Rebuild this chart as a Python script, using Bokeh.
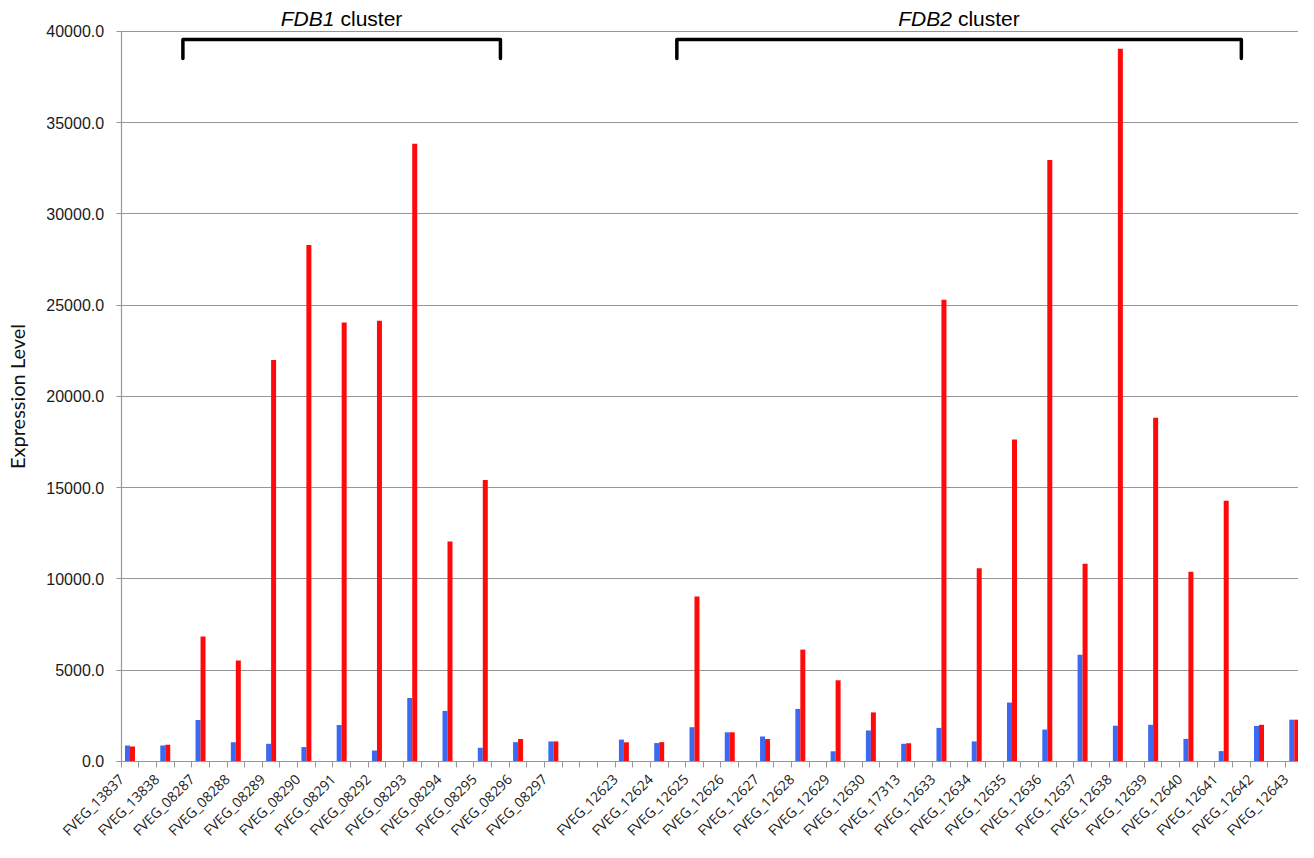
import math
from bokeh.plotting import figure
from bokeh.models import FixedTicker, NumeralTickFormatter, Range1d, ColumnDataSource
from bokeh.transform import dodge
from bokeh.core.properties import value
from bokeh.embed import file_html
from bokeh.resources import INLINE

# ---------------- data ----------------
genes = [
    "FVEG_13837", "FVEG_13838", "FVEG_08287", "FVEG_08288", "FVEG_08289",
    "FVEG_08290", "FVEG_08291", "FVEG_08292", "FVEG_08293", "FVEG_08294",
    "FVEG_08295", "FVEG_08296", "FVEG_08297", "",
    "FVEG_12623", "FVEG_12624", "FVEG_12625", "FVEG_12626", "FVEG_12627",
    "FVEG_12628", "FVEG_12629", "FVEG_12630", "FVEG_17313", "FVEG_12633",
    "FVEG_12634", "FVEG_12635", "FVEG_12636", "FVEG_12637", "FVEG_12638",
    "FVEG_12639", "FVEG_12640", "FVEG_12641", "FVEG_12642", "FVEG_12643",
]
expr_blue = [
    880, 880, 2280, 1060, 970, 790, 2000, 600, 3480, 2770, 750, 1060, 1100, None,
    1200, 1010, 1880, 1600, 1370, 2880, 560, 1700, 970, 1840, 1100, 3230, 1750,
    5850, 1960, 2010, 1240, 570, 1950, 2290,
]
expr_red = [
    820, 920, 6850, 5530, 22000, 28300, 24050, 24150, 33850, 12050, 15430, 1230,
    1100, None,
    1050, 1060, 9040, 1600, 1230, 6130, 4450, 2690, 1000, 25300, 10590, 17640,
    32950, 10830, 39050, 18830, 10400, 14290, 2010, 2290,
]
y_ticks = [0, 5000, 10000, 15000, 20000, 25000, 30000, 35000, 40000]
y_axis_title = "Expression Level"
cluster_names = ["FDB1", "FDB2"]
cluster_first = ["FVEG_08287", "FVEG_12625"]
cluster_last = ["FVEG_08295", "FVEG_12641"]

# ---------------- layout / style ----------------
SLOTS_PER_GENE = 2          # each gene = one bar slot + one empty slot
BAR_W = 0.283
LABEL_SHIFT = 0.5           # rotated labels end slightly left of the bars
X_START, X_END = -6.84, 66.74
Y_MIN, Y_TOP = -4438, 41695
YTITLE_X = -5.88
BLUE = "#3b69f2"
RED = "#ff0a0a"
GRAY = "#969696"

centers = [SLOTS_PER_GENE * i + 0.5 for i in range(len(genes))]
keep = [i for i, g in enumerate(genes) if g]
n_slots = SLOTS_PER_GENE * len(genes)

src = ColumnDataSource(dict(
    x=[centers[i] for i in keep],
    blue=[expr_blue[i] for i in keep],
    red=[expr_red[i] for i in keep],
))

p = figure(width=1298, height=842, output_backend="svg", toolbar_location=None,
           x_range=Range1d(X_START, X_END), y_range=Range1d(Y_MIN, Y_TOP),
           min_border_left=0, min_border_right=0, min_border_top=0,
           min_border_bottom=0)
p.outline_line_color = None
p.background_fill_color = "white"
p.border_fill_color = "white"

# ---------------- grid ----------------
p.xgrid.visible = False
yg = p.ygrid[0]
yg.ticker = FixedTicker(ticks=y_ticks[1:])
yg.grid_line_color = GRAY
yg.grid_line_width = 1.2
try:
    yg.cross_bounds = (0, X_END)
except Exception:
    yg.visible = False
    p.segment(x0=[0] * len(y_ticks[1:]), x1=[X_END] * len(y_ticks[1:]),
              y0=y_ticks[1:], y1=y_ticks[1:], line_color=GRAY, line_width=1.2)

# ---------------- bars ----------------
p.vbar(x=dodge("x", -BAR_W / 2, range=p.x_range), top="blue", width=BAR_W,
       source=src, fill_color=BLUE, line_color=None)
p.vbar(x=dodge("x", BAR_W / 2, range=p.x_range), top="red", width=BAR_W,
       source=src, fill_color=RED, line_color=None)

# ---------------- axes ----------------
label_pos = [centers[i] - LABEL_SHIFT for i in keep]
label_map = {pos: genes[i] for pos, i in zip(label_pos, keep)}
xa = p.xaxis[0]
xa.fixed_location = 0
xa.bounds = (0, X_END)
xa.ticker = FixedTicker(ticks=label_pos, minor_ticks=list(range(0, n_slots)))
xa.major_label_overrides = label_map
xa.major_label_orientation = math.pi / 4
xa.major_tick_in = 0
xa.major_tick_out = 0
xa.minor_tick_in = 0
xa.minor_tick_out = 6
xa.minor_tick_line_color = GRAY
xa.axis_line_color = GRAY
xa.axis_line_width = 1.2
xa.major_label_standoff = 9
xa.major_label_text_font = "Open Sans"
xa.major_label_text_font_size = "14px"
xa.major_label_text_color = "#1a1a1a"

ya = p.yaxis[0]
ya.fixed_location = 0
ya.ticker = FixedTicker(ticks=y_ticks, minor_ticks=[])
ya.formatter = NumeralTickFormatter(format="0.0")
ya.bounds = (0, 40000)
ya.major_tick_in = 0
ya.major_tick_out = 5
ya.major_tick_line_color = GRAY
ya.axis_line_color = GRAY
ya.axis_line_width = 1.2
ya.major_label_standoff = 12
ya.major_label_text_font = "Liberation Sans"
ya.major_label_text_font_size = "16px"
ya.major_label_text_color = "#1a1a1a"

p.text(x=[YTITLE_X], y=[(y_ticks[0] + y_ticks[-1]) / 2], text=[y_axis_title],
       angle=math.pi / 2, text_align="center", text_baseline="middle",
       text_font=value("Lato"), text_font_size="20px", text_color="#111111")

# ---------------- cluster brackets ----------------
PAD = 1.0
BR_TOP = 39560
BR_END = 38520
TXT_Y = 40712
xs, ys, tx = [], [], []
for name, a, b in zip(cluster_names, cluster_first, cluster_last):
    x0 = centers[genes.index(a)] - PAD
    x1 = centers[genes.index(b)] + PAD
    xs.append([x0, x0, x1, x1])
    ys.append([BR_END, BR_TOP, BR_TOP, BR_END])
    tx.append((x0 + x1) / 2)
p.multi_line(xs=xs, ys=ys, line_color="black", line_width=3.5,
             line_join="round", line_cap="round")
p.text(x=tx, y=[TXT_Y] * len(tx), text=cluster_names, text_align="right",
       text_baseline="alphabetic", x_offset=-7.2,
       text_font=value("Liberation Sans"), text_font_size="21px",
       text_font_style="italic", text_color="black")
p.text(x=tx, y=[TXT_Y] * len(tx), text=["cluster"] * len(tx), text_align="left",
       text_baseline="alphabetic", x_offset=-1.2,
       text_font=value("Liberation Sans"), text_font_size="21px",
       text_color="black")

open("out.html", "w").write(file_html(p, INLINE))
